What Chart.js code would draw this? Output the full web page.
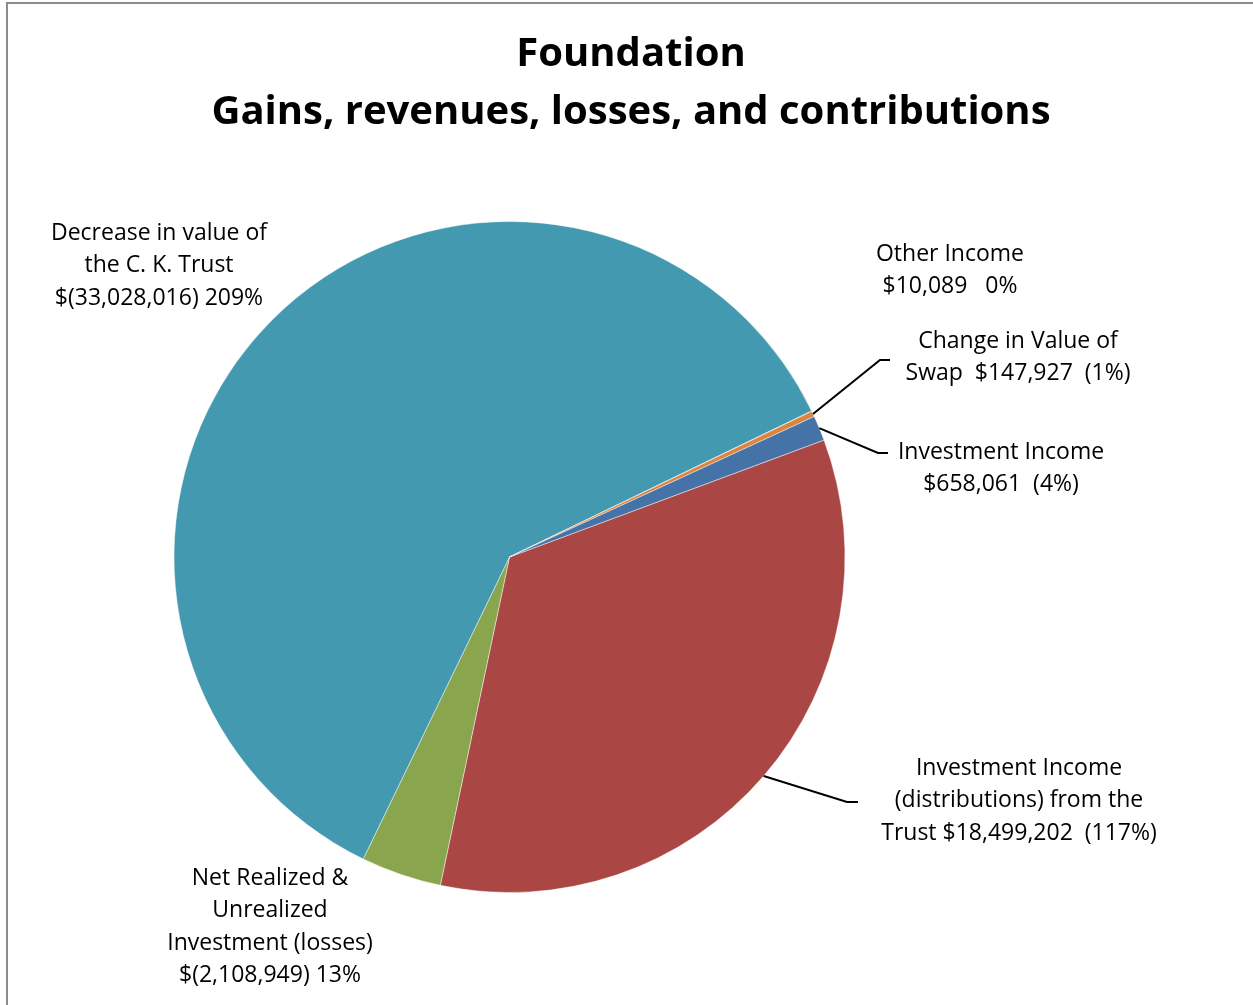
<!DOCTYPE html>
<html>
<head>
  <title>Foundation - Gains, revenues, losses, and contributions</title>
  <style>
    body { margin: 0; background: #fff; }
    canvas { display: block; }
  </style>
</head>
<body>
  <canvas id="canvas" width="1253" height="1005"></canvas>
  <script src="https://cdn.jsdelivr.net/npm/chart.js"></script>
  <script>
    // slices, clockwise starting at the red one
    var categories = [
      'Investment Income (distributions) from the Trust',
      'Net Realized & Unrealized Investment (losses)',
      'Decrease in value of the C. K. Trust',
      'Other Income',
      'Change in Value of Swap',
      'Investment Income'
    ];
    var amounts = [18499202, -2108949, -33028016, 10089, 147927, 658061];
    var shares = ['(117%)', '13%', '209%', '0%', '(1%)', '(4%)'];
    var labelLines = [
      ['Investment Income', '(distributions) from the', 'Trust $18,499,202  (117%)'],
      ['Net Realized &', 'Unrealized', 'Investment (losses)', '$(2,108,949) 13%'],
      ['Decrease in value of', 'the C. K. Trust', '$(33,028,016) 209%'],
      ['Other Income', '$10,089   0%'],
      ['Change in Value of', 'Swap  $147,927  (1%)'],
      ['Investment Income', '$658,061  (4%)']
    ];
    var titleLines = ['Foundation', 'Gains, revenues, losses, and contributions'];

    var colors = ['#AA4643', '#89A54E', '#4299B0', '#80699B', '#DB843D', '#4572A7'];

    // where each label sits (centre x, first line y) and the elbow of its leader line
    var labelSpots = [
      {x: 1019, y: 768, elbow: [847, 802, 858]},
      {x: 270, y: 878},
      {x: 159, y: 233},
      {x: 950, y: 254},
      {x: 1018, y: 341, elbow: [880, 360, 890]},
      {x: 1001, y: 452, elbow: [878, 453, 888]}
    ];

    var font = '"Open Sans", Lato, sans-serif';

    var decorPlugin = {
      id: 'decor',
      beforeDraw: function(chart) {
        var ctx = chart.ctx;
        ctx.save();
        ctx.fillStyle = '#fff';
        ctx.fillRect(0, 0, chart.width, chart.height);
        ctx.strokeStyle = '#8c8c8c';
        ctx.lineWidth = 2;
        ctx.strokeRect(7, 3, chart.width + 20, chart.height + 20);
        ctx.restore();
      },
      afterDraw: function(chart) {
        var ctx = chart.ctx;
        ctx.save();
        ctx.fillStyle = '#000';
        ctx.textAlign = 'center';
        ctx.textBaseline = 'middle';

        ctx.font = 'bold 40px ' + font;
        titleLines.forEach(function(t, i) {
          ctx.fillText(t, 631, 55 + i * 58);
        });

        var arcs = chart.getDatasetMeta(0).data;
        ctx.font = '23px ' + font;
        labelLines.forEach(function(lines, i) {
          var spot = labelSpots[i];
          lines.forEach(function(t, j) {
            ctx.fillText(t, spot.x, spot.y + j * 32.5);
          });
          if (spot.elbow) {
            var a = arcs[i].getProps(['x', 'y', 'startAngle', 'endAngle', 'outerRadius'], true);
            var mid = (a.startAngle + a.endAngle) / 2;
            ctx.beginPath();
            ctx.moveTo(a.x + Math.cos(mid) * a.outerRadius, a.y + Math.sin(mid) * a.outerRadius);
            ctx.lineTo(spot.elbow[0], spot.elbow[1]);
            ctx.lineTo(spot.elbow[2], spot.elbow[1]);
            ctx.strokeStyle = '#000';
            ctx.lineWidth = 2;
            ctx.stroke();
          }
        });
        ctx.restore();
      }
    };

    var config = {
      type: 'pie',
      data: {
        labels: categories,
        datasets: [{
          data: amounts.map(function(v) { return Math.abs(v); }),
          backgroundColor: colors,
          borderColor: 'rgba(255,255,255,0.45)',
          borderWidth: 1
        }]
      },
      options: {
        responsive: false,
        animation: false,
        rotation: 69.6,
        layout: {
          padding: {left: 173, right: 407, top: 221, bottom: 112}
        },
        plugins: {
          legend: { display: false },
          title: { display: false },
          tooltip: { enabled: false }
        },
        events: []
      },
      plugins: [decorPlugin]
    };

    window.onload = function() {
      var ctx = document.getElementById('canvas').getContext('2d');
      window.myPie = new Chart(ctx, config);
    };
  </script>
</body>
</html>
